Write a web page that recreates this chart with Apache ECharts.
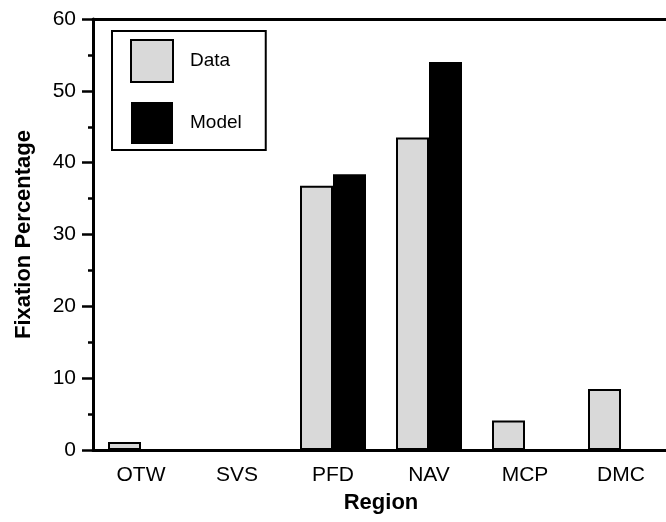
<!DOCTYPE html>
<html>
<head>
<meta charset="utf-8">
<script src="https://cdn.jsdelivr.net/npm/echarts@6/dist/echarts.min.js"></script>
<style>
  html, body { margin: 0; padding: 0; background: #fff; }
  #chart { width: 666px; height: 522px; }
</style>
</head>
<body>
<div id="chart"></div>
<script>
const regions = ['OTW', 'SVS', 'PFD', 'NAV', 'MCP', 'DMC']
const dataValues = [1.1, 0, 36.8, 43.5, 4.1, 8.5]
const modelValues = [0, 0, 38.4, 54.0, 0, 0]
const yTicks = [0, 10, 20, 30, 40, 50, 60]

const font = '"Liberation Sans", Arial, Helvetica, sans-serif'

const chart = echarts.init(document.getElementById('chart'))

chart.setOption({
  animation: false,
  backgroundColor: '#fff',
  textStyle: { fontFamily: font, color: '#000' },
  grid: {
    left: 93,
    top: 19,
    width: 576,
    height: 431,
    outerBoundsMode: 'none'
  },
  legend: {
    orient: 'vertical',
    left: 112,
    top: 31,
    padding: [8, 24, 6, 18],
    borderColor: '#000',
    borderWidth: 2,
    icon: 'rect',
    itemWidth: 42,
    itemHeight: 42,
    itemGap: 19,
    textStyle: {
      fontFamily: font,
      fontSize: 19,
      color: '#000',
      padding: [0, 0, 0, 12]
    },
    data: ['Data', 'Model']
  },
  xAxis: [{
    type: 'category',
    data: regions,
    name: 'Region',
    nameLocation: 'middle',
    nameGap: 42,
    nameTextStyle: { fontFamily: font, fontSize: 22, fontWeight: 'bold', color: '#000' },
    axisLine: { lineStyle: { color: '#000', width: 3 } },
    axisTick: { length: 15, lineStyle: { color: '#000', width: 2.5 } },
    axisLabel: { margin: 15, fontFamily: font, fontSize: 21, color: '#000' },
    splitLine: { show: false }
  }, {
    // top frame line
    type: 'category',
    data: regions,
    position: 'top',
    axisLine: { lineStyle: { color: '#000', width: 3 } },
    axisTick: { show: false },
    axisLabel: { show: false },
    splitLine: { show: false }
  }],
  yAxis: {
    type: 'value',
    min: yTicks[0],
    max: yTicks[yTicks.length - 1],
    interval: 10,
    name: 'Fixation Percentage',
    nameLocation: 'middle',
    nameGap: 58,
    nameTextStyle: { fontFamily: font, fontSize: 22, fontWeight: 'bold', color: '#000' },
    axisLine: { show: true, lineStyle: { color: '#000', width: 3 } },
    axisTick: { show: true, length: 11, lineStyle: { color: '#000', width: 2.5 } },
    minorTick: { show: true, splitNumber: 2, length: 5, lineStyle: { color: '#000', width: 2.5 } },
    axisLabel: { margin: 17, fontFamily: font, fontSize: 21, color: '#000' },
    splitLine: { show: false }
  },
  series: [{
    name: 'Data',
    type: 'bar',
    data: dataValues,
    barWidth: 33,
    barGap: '0%',
    itemStyle: { color: '#d9d9d9', borderColor: '#000', borderWidth: 2 }
  }, {
    name: 'Model',
    type: 'bar',
    data: modelValues,
    barWidth: 33,
    barGap: '0%',
    itemStyle: { color: '#000' }
  }]
})
</script>
</body>
</html>
